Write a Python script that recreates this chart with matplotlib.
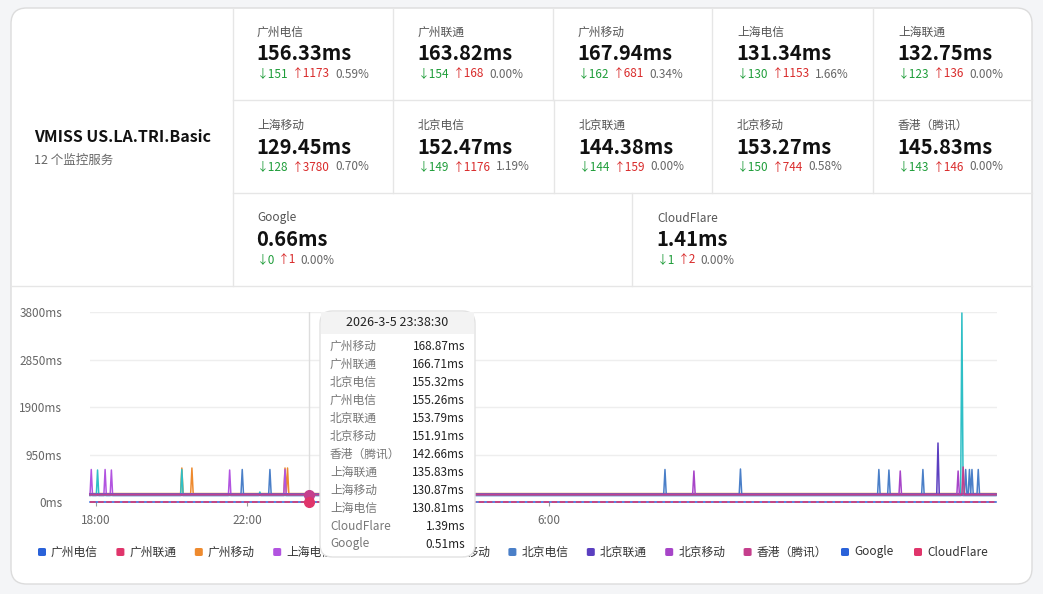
import numpy as np
import matplotlib
matplotlib.use("Agg")
import matplotlib.pyplot as plt
from matplotlib.patches import FancyBboxPatch, Rectangle
from matplotlib.lines import Line2D

plt.rcParams['font.family'] = ['Noto Sans CJK SC', 'DejaVu Sans']

W, H = 1043, 594
# ---------------- data ----------------
title = "VMISS US.LA.TRI.Basic"
subtitle = "12 个监控服务"
stat_names = ["广州电信", "广州联通", "广州移动", "上海电信", "上海联通",
              "上海移动", "北京电信", "北京联通", "北京移动", "香港（腾讯）",
              "Google", "CloudFlare"]
stat_avg = ["156.33ms", "163.82ms", "167.94ms", "131.34ms", "132.75ms",
            "129.45ms", "152.47ms", "144.38ms", "153.27ms", "145.83ms",
            "0.66ms", "1.41ms"]
stat_min = [151, 154, 162, 130, 123, 128, 149, 144, 150, 143, 0, 1]
stat_max = [1173, 168, 681, 1153, 136, 3780, 1176, 159, 744, 146, 1, 2]
stat_loss = ["0.59%", "0.00%", "0.34%", "1.66%", "0.00%", "0.70%", "1.19%",
             "0.00%", "0.58%", "0.00%", "0.00%", "0.00%"]

series_colors = ["#2a62d9", "#e0356b", "#ee8a2e", "#b254e0", "#35a96b",
                 "#2fbfc6", "#4a7fc8", "#5b3fc0", "#a745c8", "#c53f8d",
                 "#2a62d9", "#e0356b"]
baseline = [155.26, 166.71, 168.87, 130.81, 135.83, 130.87, 155.32, 153.79,
            151.91, 142.66, 0.51, 1.39]
# spikes: (clock hour, counting past midnight as 24+, value ms)
spikes = {
    "上海电信": [(17.89, 650), (18.24, 650), (18.40, 640), (21.55, 640), (23.01, 650)],
    "上海移动": [(18.05, 640), (20.28, 650), (22.34, 200), (40.94, 3780)],
    "广州移动": [(20.28, 680), (20.54, 680), (23.01, 680), (23.09, 680)],
    "北京电信": [(21.87, 650), (22.60, 650), (33.07, 650), (35.09, 660), (38.74, 650),
                (39.01, 640), (39.91, 650), (41.05, 650), (41.13, 650), (41.20, 650),
                (41.36, 650)],
    "北京移动": [(33.84, 620), (39.30, 620), (40.83, 620)],
    "北京联通": [(40.30, 1180)],
    "香港（腾讯）": [(40.97, 700)],
}
t_start, t_end = 17.84, 41.87
times = np.arange(t_start, t_end, 1 / 30)
yticks = [0, 950, 1900, 2850, 3800]
xtick_hours = [18, 22, 26, 30]
xtick_labels = ["18:00", "22:00", "2:00", "6:00"]

tip_time = "2026-3-5 23:38:30"
tip_names = ["广州移动", "广州联通", "北京电信", "广州电信", "北京联通", "北京移动",
             "香港（腾讯）", "上海联通", "上海移动", "上海电信", "CloudFlare", "Google"]
tip_vals = ["168.87ms", "166.71ms", "155.32ms", "155.26ms", "153.79ms", "151.91ms",
            "142.66ms", "135.83ms", "130.87ms", "130.81ms", "1.39ms", "0.51ms"]

# ---------------- figure ----------------
fig = plt.figure(figsize=(W / 100, H / 100), dpi=100)
fig.patch.set_facecolor("#f4f5f7")

def fx(px): return px / W
def fy(py): return 1 - py / H

def ftext(px, py, s, **kw):
    fig.text(fx(px), fy(py), s, **kw)

def hline(x0, x1, y, c="#e6e6e6"):
    fig.add_artist(Line2D([fx(x0), fx(x1)], [fy(y), fy(y)], color=c, lw=1, zorder=-0.5))

def vline(x, y0, y1, c="#e6e6e6"):
    fig.add_artist(Line2D([fx(x), fx(x)], [fy(y0), fy(y1)], color=c, lw=1, zorder=-0.5))

card = FancyBboxPatch((fx(11), fy(584)), fx(1021), 576 / H,
                      boxstyle="round,pad=0,rounding_size=0.015",
                      transform=fig.transFigure, facecolor="white",
                      edgecolor="#dcdcdc", lw=1, mutation_aspect=W / H, zorder=-1)
fig.add_artist(card)

# grid of stats
hline(11, 1032, 286)
vline(233, 8, 286)
hline(233, 1032, 100)
hline(233, 1032, 193)
for x in [393, 553, 712, 873]:
    vline(x, 8, 100)
for x in [393, 554, 712, 873]:
    vline(x, 100, 193)
vline(632, 193, 286)

ftext(34, 137, title, fontsize=11.5, fontweight="bold", va="center", color="#111")
ftext(34, 160, subtitle, fontsize=9, va="center", color="#666")

cells = []
for x in [257, 418, 578, 737, 898]:
    cells.append((x, 0))
for x in [257, 418, 579, 737, 898]:
    cells.append((x, 93))
cells += [(257, 186), (657, 186)]
for i, (x, dy) in enumerate(cells):
    ftext(x, 32 + dy, stat_names[i], fontsize=8.5, color="#555", va="center")
    ftext(x - 1, 54 + dy, stat_avg[i], fontsize=14.5, fontweight="bold", color="#111", va="center")
    s1 = "↓%d" % stat_min[i]
    s2 = "↑%d" % stat_max[i]
    ftext(x, 74 + dy, s1, fontsize=8.5, color="#1f9d3a", va="center")
    x2 = x + 7 * len(s1) + 7
    ftext(x2, 74 + dy, s2, fontsize=8.5, color="#d92b2b", va="center")
    ftext(x2 + 7 * len(s2) + 8, 74 + dy, stat_loss[i], fontsize=8.5, color="#666", va="center")

# ---------------- chart ----------------
ax = fig.add_axes([fx(90), fy(502), fx(997 - 90), (502 - 312) / H])
ax.set_facecolor("none")
for i, name in enumerate(stat_names):
    vals = np.full(len(times), baseline[i])
    for (h, v) in spikes.get(name, []):
        vals[np.argmin(np.abs(times - h))] = v
    ls = "--" if name in ("CloudFlare",) else "-"
    ax.plot(times, vals, color=series_colors[i], lw=1.1, ls=ls, zorder=3, clip_on=False)
ax.set_xlim(t_start, t_end)
ax.set_ylim(0, 3800)
ax.set_yticks(yticks)
ax.set_yticklabels([f"{v}ms" for v in yticks], fontsize=8.5, color="#666")
ax.set_xticks(xtick_hours)
ax.set_xticklabels(xtick_labels, fontsize=8.5, color="#666")
ax.tick_params(axis="y", length=0, pad=20)
ax.tick_params(axis="x", length=3, color="#999", pad=6)
ax.grid(axis="y", color="#eeeeee", lw=1)
for s in ["top", "right", "left", "bottom"]:
    ax.spines[s].set_visible(False)
ax.set_axisbelow(True)

# hover crosshair
hover_t = 23.0 + 38.5 / 60
ax.axvline(hover_t, color="#dddddd", lw=1, zorder=1)
ax.plot([hover_t], [150], "o", color="#c53f8d", ms=7, zorder=5, clip_on=False)
ax.plot([hover_t], [1.4], "o", color="#e0356b", ms=7, zorder=5, clip_on=False)

# legend
for i, name in enumerate(stat_names):
    if i < 10:
        mx = 42 + 78.4 * i
    else:
        mx = [845, 918][i - 10]
    fig.add_artist(FancyBboxPatch((fx(mx - 4), fy(556)), fx(8), 8 / H,
                                  boxstyle="round,pad=0,rounding_size=0.002",
                                  transform=fig.transFigure, facecolor=series_colors[i],
                                  edgecolor="none"))
    ftext(mx + 9, 552, name, fontsize=8.5, color="#333", va="center")

# tooltip
tip = FancyBboxPatch((fx(320), fy(557)), fx(155), (557 - 311) / H,
                     boxstyle="round,pad=0,rounding_size=0.012",
                     transform=fig.transFigure, facecolor="white",
                     edgecolor="#e2e2e2", lw=1, mutation_aspect=W / H, zorder=10)
fig.add_artist(tip)
fig.add_artist(Rectangle((fx(321), fy(334)), fx(153), 22 / H, transform=fig.transFigure,
                         facecolor="#f3f3f3", edgecolor="none", zorder=11))
ftext(397, 323, tip_time, fontsize=9, color="#222", ha="center", va="center", zorder=12)
for i, (n, v) in enumerate(zip(tip_names, tip_vals)):
    y = 346 + 18 * i
    ftext(330, y, n, fontsize=8.5, color="#777", va="center", zorder=12)
    ftext(465, y, v, fontsize=8.5, color="#222", va="center", ha="right", zorder=12)

fig.savefig("out.png", dpi=100, facecolor=fig.get_facecolor())
